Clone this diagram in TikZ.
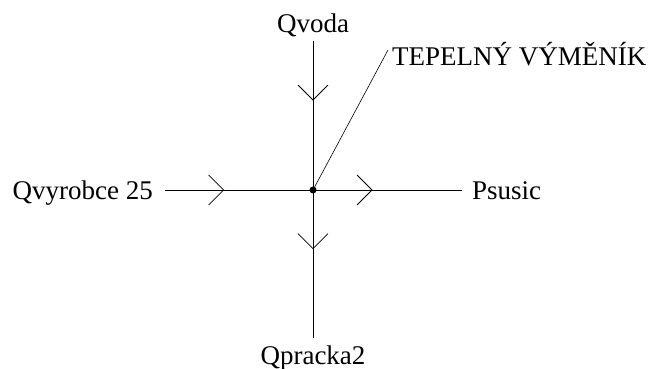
\documentclass[tikz,border=0pt]{standalone}
\usepackage{fontspec}
\setmainfont{Liberation Serif}
\newfontfamily\timesfam{Liberation Serif}
\usetikzlibrary{arrows.meta,decorations.markings}

\begin{document}
\begin{tikzpicture}[x=1pt,y=-1pt]
\tikzstyle{lbl}=[inner sep=0pt, font=\timesfam\fontsize{27}{31}\selectfont]
\tikzstyle{flow}=[line width=.8pt, postaction={decorate}, decoration={markings,
  mark=at position .4 with {\arrow{Straight Barb[length=15pt,width=30pt,line width=.8pt]}}}]
\useasboundingbox (0,0) rectangle (654,369);
\draw (313,190) node (hx) [circle, fill, inner sep=0pt, minimum size=7pt] {};
\draw (313,33) node (voda) [lbl, anchor=base] {Qvoda};
\draw (313,364) node (pracka) [lbl, anchor=base] {Qpracka2};
\draw (153,199) node (vyrobce) [lbl, anchor=base east] {Qvyrobce 25};
\draw (472,199) node (susic) [lbl, anchor=base west] {Psusic};
\draw (392,66) node (vymenik) [lbl, anchor=base west] {TEPELNÝ VÝMĚNÍK};
\coordinate (inT) at (313,41);
\coordinate (outB) at (313,338);
\coordinate (inL) at (165,190);
\coordinate (outR) at (462,190);
\coordinate (tag) at (388,50);
\draw[flow] (inT) -- (hx.center);
\draw[flow] (hx.center) -- (outB);
\draw[flow] (inL) -- (hx.center);
\draw[flow] (hx.center) -- (outR);
\draw[line width=.6pt] (hx.center) -- (tag);
\end{tikzpicture}
\end{document}
